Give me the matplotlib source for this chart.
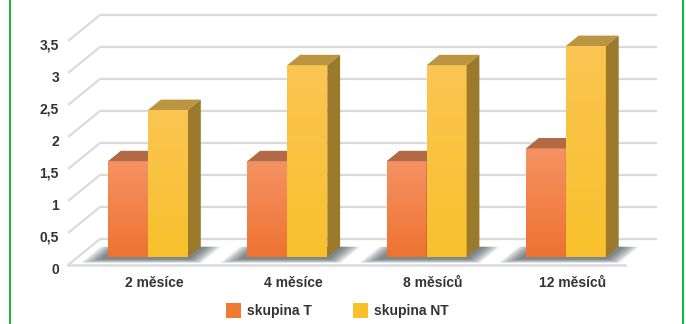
import numpy as np
import matplotlib.pyplot as plt
from matplotlib.patches import Polygon, Rectangle
from matplotlib.colors import LinearSegmentedColormap

categories = ['2 měsíce', '4 měsíce', '8 měsíců', '12 měsíců']
skupina_T = [1.5, 1.5, 1.5, 1.7]
skupina_NT = [2.3, 3.0, 3.0, 3.3]
series_names = ['skupina T', 'skupina NT']
grid_levels = [0, 0.5, 1, 1.5, 2, 2.5, 3, 3.5]
tick_labels = ['0', '0,5', '1', '1,5', '2', '2,5', '3', '3,5']

plt.rcParams['font.family'] = ['Liberation Sans', 'DejaVu Sans']

# pixel scale of the picture: one group = 139.3 px, one unit = 64 px
GX, GY, X0, Y0 = 139.3, 64.0, 138.4, 265.0
def px(x):
    return (x - X0) / GX
def py(y):
    return (Y0 - y) / GY

DX, DY = 32 / GX, 26 / GY      # full depth of the floor
F0, F1 = 0.3, 0.7              # bar depth inside the floor
W = 40 / GX                    # bar width

fig = plt.figure(figsize=(6.86, 3.24), dpi=100)
ax = fig.add_axes([0, 0, 1, 1])
ax.axis('off')

# grid: left wall diagonal + back line
xl, xr = px(68), px(625)
for v in grid_levels:
    ax.plot([xl, xl + DX, xr + DX], [v, v + DY, v + DY], color='#dadada', lw=1.6, zorder=1,
            solid_capstyle='butt')
ax.plot([xl, xr], [0, 0], color='#dadada', lw=1.8, zorder=1)
for v, lab in zip(grid_levels, tick_labels):
    ax.text(px(59), v - 5 / GY, lab, ha='right', va='center', fontsize=10,
            fontweight='bold', color='#333333')

def gradient_face(patch, top, bottom, z):
    cmap = LinearSegmentedColormap.from_list('g', [bottom, top])
    x0, y0 = patch.get_x(), patch.get_y()
    im = ax.imshow(np.linspace(0, 1, 64).reshape(-1, 1), extent=[x0, x0 + patch.get_width(), y0, y0 + patch.get_height()],
                   origin='lower', aspect='auto', cmap=cmap, zorder=z, interpolation='bilinear')
    im.set_clip_path(patch)

def bar3d(xs, vals, front_cols, top_col, side_col, z):
    bars = ax.bar(xs + F0 * DX, vals, width=W, bottom=F0 * DY, align='edge',
                  color='none', edgecolor='none', zorder=z)
    for b, v in zip(bars, vals):
        x = b.get_x() - F0 * DX
        gradient_face(b, front_cols[0], front_cols[1], z)
        top = [(x + F0 * DX, v + F0 * DY), (x + W + F0 * DX, v + F0 * DY),
               (x + W + F1 * DX, v + F1 * DY), (x + F1 * DX, v + F1 * DY)]
        side = [(x + W + F0 * DX, F0 * DY), (x + W + F1 * DX, F1 * DY),
                (x + W + F1 * DX, v + F1 * DY), (x + W + F0 * DX, v + F0 * DY)]
        ax.add_patch(Polygon(top, closed=True, facecolor=top_col, edgecolor='none', zorder=z))
        ax.add_patch(Polygon(side, closed=True, facecolor=side_col, edgecolor='none', zorder=z))

xc = np.arange(len(categories))

# soft shadows lying on the floor around each pair of bars
for i in xc:
    for k in range(8):
        e = (20 - 2.2 * k) / GX
        f_front = F0 - 0.22 + 0.02 * k
        a, b = i - W - e, i + W + e
        ax.add_patch(Polygon([(a + f_front * DX, f_front * DY), (b + f_front * DX, f_front * DY),
                              (b + F1 * DX, F1 * DY), (a + F1 * DX, F1 * DY)], closed=True,
                             facecolor='#2f3e46', edgecolor='none', alpha=0.11, zorder=2))

bar3d(xc - W, np.array(skupina_T), ('#f59263', '#ee7330'), '#b26a45', '#a55a35', 3)
bar3d(xc, np.array(skupina_NT), ('#fbc552', '#f8c12c'), '#bb9540', '#9b7a2c', 4)

ax.set_xlim(px(0), px(686))
ax.set_ylim(py(324), py(0))

for i, lab in zip(xc, categories):
    ax.text(i + 0.5 * DX, py(283), lab, ha='center', va='center', fontsize=10,
            fontweight='bold', color='#333333')

# legend
for sx, tx, col, name in [(226, 247, '#f07a30', series_names[0]), (353, 374, '#f9c02a', series_names[1])]:
    ax.add_patch(Rectangle((px(sx), py(318)), 15 / GX, 15 / GY, facecolor=col, edgecolor='none'))
    ax.text(px(tx), py(311), name, ha='left', va='center', fontsize=10,
            fontweight='bold', color='#333333')

# green frame
for x in (10, 683):
    ax.plot([px(x), px(x)], [py(0), py(324)], color='#22b04a', lw=1.5)

fig.savefig('out.png', dpi=100)
